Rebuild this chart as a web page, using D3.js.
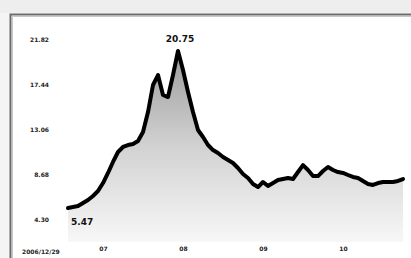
<!DOCTYPE html>
<html>
<head>
<meta charset="utf-8">
<script src="https://cdn.jsdelivr.net/npm/d3@7"></script>
<style>
  html, body { margin: 0; padding: 0; background: #fff; }
  svg { display: block; }
  .tick text { font-family: "DejaVu Sans", sans-serif; font-weight: bold; fill: #222; }
</style>
</head>
<body>
<svg id="svg" width="411" height="258"></svg>
<script>
// closing prices, one point per period
var prices = [5.47, 5.57, 5.66, 5.96, 6.25, 6.64, 7.12, 7.90, 8.88, 9.95,
  10.92, 11.41, 11.60, 11.70, 11.99, 12.87, 14.81, 17.44, 18.41, 16.47,
  16.27, 18.41, 20.75, 18.90, 16.76, 14.81, 13.06, 12.38, 11.60, 11.11,
  10.82, 10.43, 10.14, 9.85, 9.36, 8.78, 8.39, 7.81, 7.51, 8.00,
  7.61, 7.90, 8.19, 8.29, 8.39, 8.29, 8.97, 9.65, 9.17, 8.58,
  8.58, 9.07, 9.46, 9.17, 8.97, 8.88, 8.68, 8.49, 8.39, 8.10,
  7.81, 7.71, 7.90, 8.00, 8.00, 8.00, 8.10, 8.29];

var yTicks = [4.30, 8.68, 13.06, 17.44, 21.82];
var xTickIdx = [7, 23, 39, 55];
var xTickLabels = ["07", "08", "09", "10"];
var startLabel = "2006/12/29";

var svg = d3.select("#svg");

// frame
svg.append("rect").attr("x", 0).attr("y", 0).attr("width", 411).attr("height", 13).attr("fill", "#eeeeee");
svg.append("rect").attr("x", 0).attr("y", 13).attr("width", 10).attr("height", 245).attr("fill", "#f4f4f4");
svg.append("path")
    .attr("d", "M10.5,258V14.5H411")
    .attr("fill", "none").attr("stroke", "#6a6a6a").attr("stroke-width", 2);
svg.append("path")
    .attr("d", "M12.5,258V16.5H411")
    .attr("fill", "none").attr("stroke", "#c8c8c8").attr("stroke-width", 1);

var x = d3.scaleLinear().domain([0, prices.length - 1]).range([68, 403]);
var y = d3.scaleLinear().domain([5.47, 20.75]).range([208, 51]);

var defs = svg.append("defs");
var grad = defs.append("linearGradient")
    .attr("id", "fillGrad")
    .attr("gradientUnits", "userSpaceOnUse")
    .attr("x1", 0).attr("y1", 51).attr("x2", 0).attr("y2", 242);
grad.append("stop").attr("offset", 0).attr("stop-color", "#9c9c9c");
grad.append("stop").attr("offset", 0.5).attr("stop-color", "#d2d2d2");
grad.append("stop").attr("offset", 1).attr("stop-color", "#f7f7f7");

var area = d3.area()
    .x(function(d, i) { return x(i); })
    .y0(242)
    .y1(function(d) { return y(d); });

var line = d3.line()
    .x(function(d, i) { return x(i); })
    .y(function(d) { return y(d); });

svg.append("path")
    .datum(prices)
    .attr("d", area)
    .attr("fill", "url(#fillGrad)");

svg.append("path")
    .datum(prices)
    .attr("d", line)
    .attr("fill", "none")
    .attr("stroke", "#000")
    .attr("stroke-width", 4)
    .attr("stroke-linejoin", "round")
    .attr("stroke-linecap", "round");

// axes
var yAxis = svg.append("g")
    .attr("transform", "translate(49,0)")
    .call(d3.axisLeft(y).tickValues(yTicks).tickSize(0).tickPadding(0).tickFormat(d3.format(".2f")));
yAxis.select(".domain").remove();
yAxis.selectAll("text").style("font-size", "6px");

var xAxis = svg.append("g")
    .attr("transform", "translate(0,247)")
    .call(d3.axisBottom(x).tickValues(xTickIdx).tickSize(0).tickPadding(0)
      .tickFormat(function(d, i) { return xTickLabels[i]; }));
xAxis.select(".domain").remove();
xAxis.selectAll("text").style("font-size", "6px");

svg.append("text")
    .attr("x", 22).attr("y", 254)
    .attr("font-family", "DejaVu Sans, sans-serif")
    .attr("font-weight", "bold")
    .attr("font-size", "6px")
    .attr("fill", "#222")
    .text(startLabel);

// max / min labels
var maxI = d3.maxIndex(prices), minI = d3.minIndex(prices);
svg.append("text")
    .attr("x", x(maxI) + 2).attr("y", y(prices[maxI]) - 9)
    .attr("text-anchor", "middle")
    .attr("font-family", "DejaVu Sans, sans-serif")
    .attr("font-weight", "bold")
    .attr("font-size", "9px")
    .attr("fill", "#111")
    .text(d3.format(".2f")(prices[maxI]));
svg.append("text")
    .attr("x", x(minI) + 3).attr("y", y(prices[minI]) + 17)
    .attr("font-family", "DejaVu Sans, sans-serif")
    .attr("font-weight", "bold")
    .attr("font-size", "9px")
    .attr("fill", "#111")
    .text(d3.format(".2f")(prices[minI]));
</script>
</body>
</html>
